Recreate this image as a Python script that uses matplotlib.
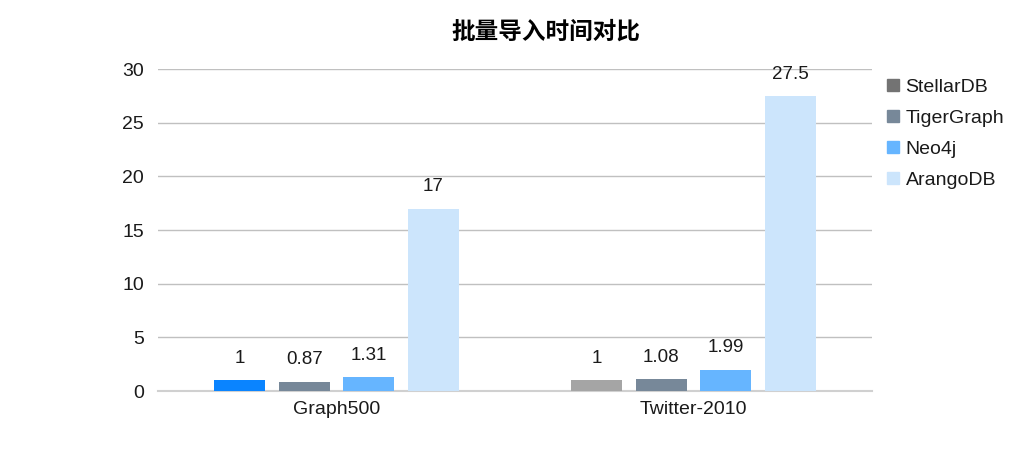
import matplotlib.pyplot as plt
import numpy as np
from matplotlib.patches import Patch

plt.rcParams['font.family'] = ['Liberation Sans', 'Noto Sans CJK SC', 'DejaVu Sans']

categories = ["Graph500", "Twitter-2010"]
series = ["StellarDB", "TigerGraph", "Neo4j", "ArangoDB"]
values = {
    "StellarDB": [1, 1],
    "TigerGraph": [0.87, 1.08],
    "Neo4j": [1.31, 1.99],
    "ArangoDB": [17, 27.5],
}
labels = {
    "StellarDB": ["1", "1"],
    "TigerGraph": ["0.87", "1.08"],
    "Neo4j": ["1.31", "1.99"],
    "ArangoDB": ["17", "27.5"],
}
# StellarDB bars differ per category in the source
bar_colors = {
    "StellarDB": ["#0a84ff", "#a5a5a5"],
    "TigerGraph": ["#778899", "#778899"],
    "Neo4j": ["#66b5ff", "#66b5ff"],
    "ArangoDB": ["#cce5fc", "#cce5fc"],
}
legend_colors = ["#737373", "#778899", "#66b5ff", "#cce5fc"]

fig = plt.figure(figsize=(10.15, 4.5), dpi=100)
ax = fig.add_axes([158 / 1015, 1 - 391 / 450, 714 / 1015, 322 / 450])

x = np.arange(len(categories))
step = 0.1807
width = 0.143
for i, name in enumerate(series):
    offs = x + (i - 1.5) * step
    ax.bar(offs, values[name], width=width, color=bar_colors[name], zorder=3)
    for xo, v, t in zip(offs, values[name], labels[name]):
        ax.annotate(t, (xo, v), xytext=(0, 9.5), textcoords="offset points",
                    ha="center", va="bottom", fontsize=13.5, color="#1a1a1a")

ax.set_xlim(-0.5, 1.5)
ax.set_ylim(0, 30)
ax.set_yticks(range(0, 31, 5))
ax.set_xticks(x)
ax.set_xticklabels(categories, fontsize=14)
ax.tick_params(axis="y", length=0, labelsize=14, pad=10, labelcolor="#1a1a1a")
ax.tick_params(axis="x", length=0, pad=7, labelcolor="#1a1a1a")
ax.yaxis.grid(True, color="#c0c0c0", linewidth=1)
ax.set_axisbelow(True)
for s in ["top", "right", "left"]:
    ax.spines[s].set_visible(False)
ax.spines["bottom"].set_color("#d0d0d0")
ax.spines["bottom"].set_linewidth(1.5)

fig.text(546 / 1015, 1 - 32 / 450, "批量导入时间对比",
         ha="center", va="center", fontsize=17, fontweight="bold",
         family=['Noto Sans CJK SC', 'DejaVu Sans'])

handles = [Patch(color=c, label=n) for c, n in zip(legend_colors, series)]
fig.legend(handles=handles, loc="upper left", bbox_to_anchor=(887 / 1015, 1 - 79 / 450),
           frameon=False, fontsize=14, handlelength=0.6, handleheight=0.6,
           handletextpad=0.35, labelspacing=0.72, borderpad=0, borderaxespad=0,
           labelcolor="#1a1a1a")

fig.savefig("out.png", dpi=100)
